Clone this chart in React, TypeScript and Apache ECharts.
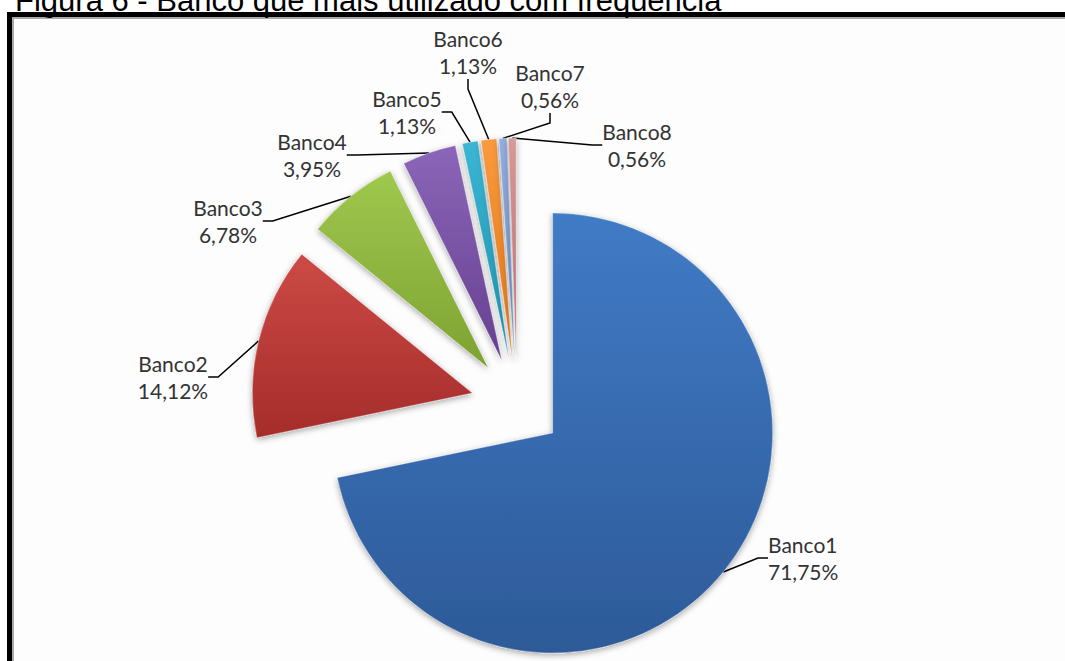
import React, { useEffect, useRef } from "react";
import * as echarts from "echarts";

const TITLE = "Figura 6 - Banco que mais utilizado com frequência";
const categories = ["Banco1", "Banco2", "Banco3", "Banco4", "Banco5", "Banco6", "Banco7", "Banco8"];
const counts = [127, 25, 12, 7, 2, 2, 1, 1];

const colorTop = ["#417bc6", "#cc4a46", "#9fc84e", "#8b66b8", "#3bb6d3", "#fa9a3e", "#93aee0", "#d69a99"];
const colorBottom = ["#2d5a98", "#a52c2a", "#7ea232", "#663f90", "#1e8fab", "#de7416", "#6a8bc4", "#b46d6d"];

// layout: pie centre, radius, explode distance, label anchor (x, y, align)
const PIE_CENTER = [517, 404];
const PIE_RADIUS = 220;
const EXPLODE = 46;
const labelPos: [number, number, string][] = [
  [768, 558, "left"],
  [173, 377, "center"],
  [228, 221, "center"],
  [312, 155, "center"],
  [407, 112, "center"],
  [468, 52, "center"],
  [550, 86, "center"],
  [637, 145, "center"],
];

export default function App() {
  const ref = useRef<HTMLDivElement>(null);
  useEffect(() => {
    document.body.style.margin = "0";
    const chart = echarts.init(ref.current!, null, { renderer: "svg" });
    const total = counts.reduce((a, b) => a + b, 0);
    const fmt = (v: number) => ((v / total) * 100).toFixed(2).replace(".", ",") + "%";

    let cum = 0;
    const series = categories.map((_, k) => {
      const mid = ((cum + counts[k] / 2) / total) * Math.PI * 2;
      cum += counts[k];
      const cx = PIE_CENTER[0] + EXPLODE * Math.sin(mid);
      const cy = PIE_CENTER[1] - EXPLODE * Math.cos(mid);
      return {
        type: "pie",
        center: [cx, cy],
        radius: PIE_RADIUS,
        startAngle: 90,
        clockwise: true,
        avoidLabelOverlap: false,
        emphasis: { disabled: true },
        silent: true,
        z: 2,
        label: {
          show: true,
          position: "outside",
          fontFamily: "Lato",
          fontSize: 21,
          lineHeight: 27,
          color: "#333",
          align: "center",
          formatter: (p: any) => `${p.name}\n${fmt(p.value)}`,
        },
        labelLine: { show: true, length: 10, length2: 10, lineStyle: { color: "#000", width: 1.5 } },
        labelLayout: (params: any) => {
          const p = labelPos[params.dataIndex];
          return { x: p[0], y: p[1], align: p[2], verticalAlign: "middle" };
        },
        data: categories.map((name, i) =>
          i === k
            ? {
                name,
                value: counts[i],
                itemStyle: {
                  color: new echarts.graphic.LinearGradient(0, 0, 0, 1, [
                    { offset: 0, color: colorTop[i] },
                    { offset: 1, color: colorBottom[i] },
                  ]),
                  shadowBlur: 6,
                  shadowColor: "rgba(0,0,0,0.35)",
                  shadowOffsetY: 2,
                  borderColor: "rgba(255,255,255,0.3)",
                  borderWidth: 1,
                },
              }
            : {
                name,
                value: counts[i],
                itemStyle: { color: "rgba(0,0,0,0)", borderWidth: 0, shadowBlur: 0 },
                label: { show: false },
                labelLine: { show: false },
              }
        ),
      };
    });

    chart.setOption({
      animation: false,
      backgroundColor: "#ffffff",
      graphic: [
        { type: "rect", z: -10, shape: { x: 13, y: 17, width: 1065, height: 661 }, style: { fill: "#fdfdfd" } },
        { type: "rect", shape: { x: 7, y: 12, width: 1065, height: 5 }, style: { fill: "#000" } },
        { type: "rect", shape: { x: 7, y: 12, width: 5, height: 661 }, style: { fill: "#000" } },
        { type: "rect", shape: { x: 12, y: 17, width: 1065, height: 2 }, style: { fill: "#a8a8a8" } },
        { type: "rect", shape: { x: 12, y: 17, width: 2, height: 661 }, style: { fill: "#a8a8a8" } },
        {
          type: "text",
          x: 15,
          y: 0,
          style: { text: TITLE, font: '31px "Liberation Sans", Arial, sans-serif', fill: "#000", verticalAlign: "middle" },
        },
      ],
      series,
    });
    return () => chart.dispose();
  }, []);
  return <div ref={ref} style={{ position: "fixed", left: 0, top: 0, width: 1065, height: 661 }} />;
}
